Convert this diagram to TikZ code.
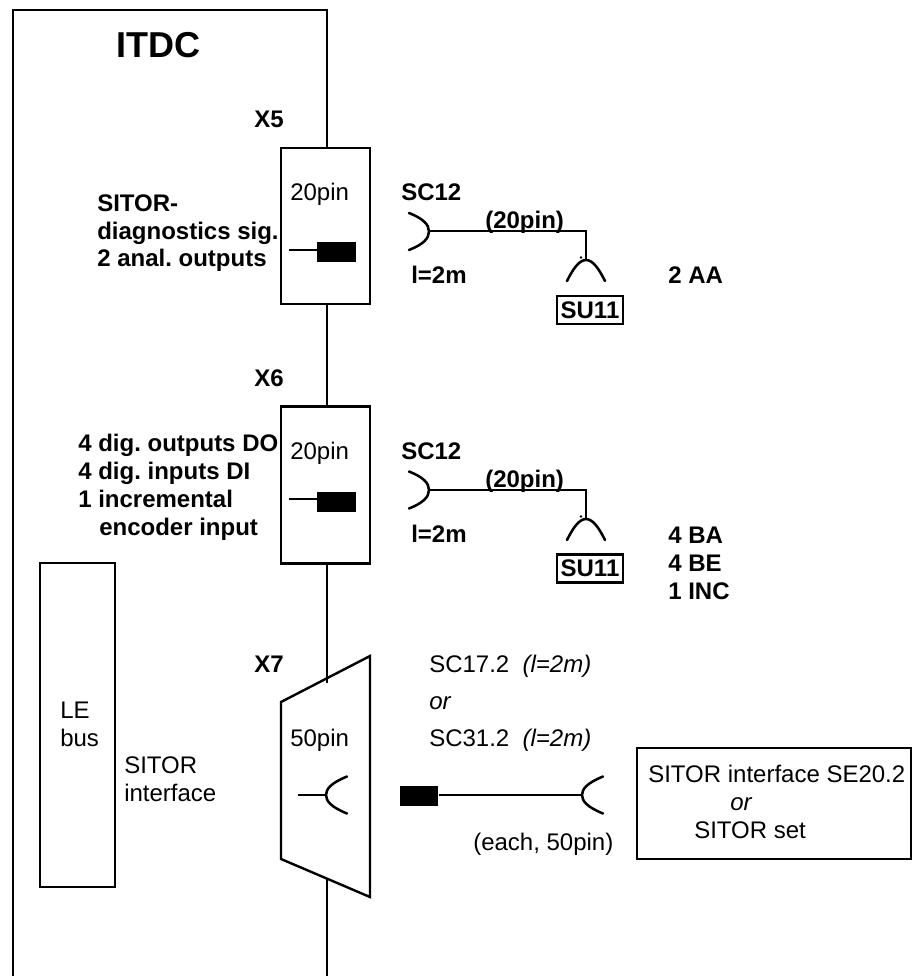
\documentclass[tikz,border=0pt]{standalone}
\usepackage{fontspec}
\setmainfont{Liberation Sans}
\tikzset{
  wire/.style={line width=1.9pt,line cap=butt},
  thin wire/.style={line width=1.3pt},
  box/.style={draw,line width=1.8pt,inner sep=0pt,fill=none},
  plug/.style={fill=black,inner sep=0pt,minimum width=29pt,minimum height=15pt},
  lab/.style={anchor=base west,inner sep=0pt,font=\fontsize{18}{18}\selectfont},
  blab/.style={lab,font=\fontsize{18}{18}\selectfont\bfseries},
  pics/jackleft/.style={code={\draw[wire,line cap=round] (0,18.5) .. controls (-16,12) and (-21,6) .. (-21,0) .. controls (-21,-6) and (-16,-12) .. (0,-18.5);}},
  pics/jackright/.style={code={\draw[wire,line cap=round] (0,18.5) .. controls (14,13) and (20,7) .. (20,0) .. controls (20,-7) and (14,-13) .. (0,-18.5);}},
  pics/jackup/.style={code={\draw[wire,line cap=round] (-19,-21) .. controls (-13,-9) and (-7,0) .. (0,0) .. controls (7,0) and (13,-9) .. (19,-21);}},
}
\begin{document}
\frenchspacing
\begin{tikzpicture}[x=0.75pt,y=0.75pt]
\useasboundingbox (0,0) rectangle (919,-976);
% frame
\coordinate (fbl) at (13,-976);
\coordinate (ftl) at (13,-10);
\coordinate (ftr) at (327,-10);
\coordinate (fbr) at (327,-976);
% connector boxes
\node[box,minimum width=66.75pt,minimum height=117pt] (x5box) at (325.5,-226) {};
\node[box,minimum width=66.75pt,minimum height=117.75pt] (x6box) at (325.5,-485) {};
\coordinate (t1) at (281,-702);
\coordinate (t2) at (370,-656);
\coordinate (t3) at (370,-897);
\coordinate (t4) at (281,-859);
\coordinate (w7a) at (327,-683);
\coordinate (w7b) at (327,-878);
\draw[wire,line cap=rect] (fbl) -- (ftl) -- (ftr);
\draw[wire] (ftr) -- (327,-148);
\draw[wire] (327,-304) -- (327,-406);
\draw[wire] (327,-563) -- (w7a);
\draw[wire] (w7b) -- (fbr);
\draw[wire,line width=1.8pt,line join=miter] (t1) -- (t2) -- (t3) -- (t4) -- cycle;
\node[box,minimum width=56.25pt,minimum height=243pt] (lebus) at (77.5,-725) {};
% plugs in boxes
\node[plug] (p5) at (336.5,-252) {};
\coordinate (p5l) at (289,-250);
\draw[thin wire] (p5l) -- (p5.west |- p5l);
\node[plug] (p6) at (336.5,-501.5) {};
\coordinate (p6l) at (289,-499);
\draw[thin wire] (p6l) -- (p6.west |- p6l);
% X7 socket
\coordinate (s7l) at (298,-795);
\coordinate (s7t) at (327,-795);
\draw[thin wire] (s7l) -- (s7t);
\pic at (347,-795) {jackleft};
% cable 1
\coordinate (c1a) at (430,-231);
\coordinate (c1b) at (586,-231);
\coordinate (c1c) at (586,-260);
\pic at (409,-231.5) {jackright};
\draw[wire,line join=miter] (c1a) -- (c1b) -- (c1c);
\pic at (c1c) {jackup};
\fill (581,-257.5) circle (1pt);
\node[box,minimum width=49.5pt,minimum height=21pt,font=\fontsize{18}{18}\selectfont\bfseries] (su1) at (590,-310) {SU11};
% cable 2
\coordinate (c2a) at (430,-490);
\coordinate (c2b) at (586,-490);
\coordinate (c2c) at (586,-519);
\pic at (409,-490) {jackright};
\draw[wire,line join=miter] (c2a) -- (c2b) -- (c2c);
\pic at (c2c) {jackup};
\fill (581,-516.5) circle (1pt);
\node[box,minimum width=49.5pt,minimum height=21pt,font=\fontsize{18}{18}\selectfont\bfseries] (su2) at (590,-568.5) {SU11};
% cable 3
\node[plug] (p7) at (419,-796) {};
\coordinate (c3b) at (583,-795);
\draw[thin wire] (p7.east |- c3b) -- (c3b);
\pic at (603,-795) {jackleft};
\node[box,minimum width=205.5pt,minimum height=83.25pt] (sitorbox) at (774,-803.5) {};
% labels
\node[lab,font=\fontsize{27}{27}\selectfont\bfseries] (itdc) at (116,-57) {ITDC};
\node[blab] (x5) at (254,-127) {X5};
\node[blab] (x6) at (254,-386) {X6};
\node[blab] (x7) at (254,-672) {X7};
\node[blab] (a1) at (97,-211) {SITOR-};
\node[blab] (a2) at (97,-239) {diagnostics sig.};
\node[blab] (a3) at (97,-266) {2 anal. outputs};
\node[blab] (b1) at (78,-451) {4 dig. outputs DO};
\node[blab] (b2) at (78,-479) {4 dig. inputs DI};
\node[blab] (b3) at (78,-507) {1 incremental};
\node[blab] (b4) at (99,-535) {encoder input};
\node[lab] (pin1) at (290,-200) {20pin};
\node[lab] (pin2) at (290,-459) {20pin};
\node[lab] (pin3) at (290,-746) {50pin};
\node[lab] (le) at (60,-718) {LE};
\node[lab] (bus) at (60,-746) {bus};
\node[lab] (si1) at (124,-773) {SITOR};
\node[lab] (si2) at (124,-801) {interface};
\node[blab] (sc1) at (401,-200) {SC12};
\node[blab] (len1) at (411,-283) {l=2m};
\node[blab] (pn1) at (485,-228) {(20pin)};
\node[blab] (aa) at (668,-283) {2 AA};
\node[blab] (sc2) at (401,-459) {SC12};
\node[blab] (len2) at (411,-542) {l=2m};
\node[blab] (pn2) at (485,-487) {(20pin)};
\node[blab] (ba) at (668,-543) {4 BA};
\node[blab] (be) at (668,-571) {4 BE};
\node[blab] (inc) at (668,-599) {1 INC};
\node[lab] (sc17) at (429,-672) {SC17.2\ \ \textit{(l=2m)}};
\node[lab] (or1) at (429,-709) {\textit{or}};
\node[lab] (sc31) at (429,-746) {SC31.2\ \ \textit{(l=2m)}};
\node[lab] (each) at (473,-850) {(each, 50pin)};
\node[lab] (se1) at (648,-782) {SITOR interface SE20.2};
\node[lab] (or2) at (730,-810) {\textit{or}};
\node[lab] (se3) at (694,-838) {SITOR set};
\end{tikzpicture}
\end{document}
